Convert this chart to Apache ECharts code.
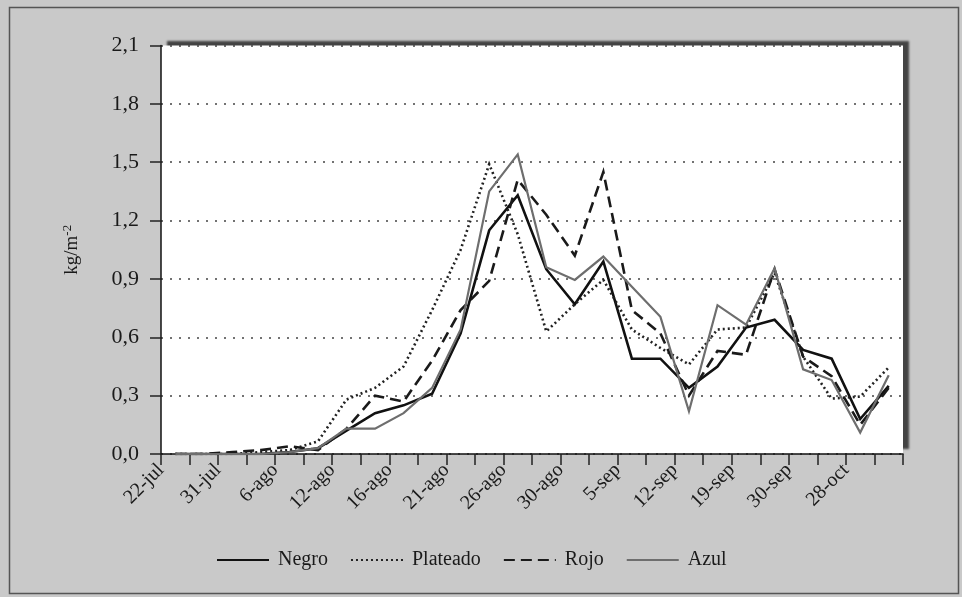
<!DOCTYPE html>
<html><head><meta charset="utf-8">
<script src="https://cdn.jsdelivr.net/npm/echarts@6/dist/echarts.min.js"></script>
<style>html,body{margin:0;padding:0;background:#c9c9c9;}#c{width:962px;height:597px;}</style>
</head><body><div id="c"></div>
<script>
// Tick labels (one every two periods)
const tickLabels = ['22-jul','31-jul','6-ago','12-ago','16-ago','21-ago','26-ago','30-ago','5-sep','12-sep','19-sep','30-sep','28-oct'];
// Series values (kg/m-2), 26 periods
const negro    = [0,0,0,0,0.01,0.03,0.12,0.21,0.25,0.31,0.62,1.15,1.33,0.95,0.77,0.99,0.49,0.49,0.34,0.45,0.65,0.69,0.535,0.49,0.18,0.35];
const plateado = [0,0,0,0.01,0.02,0.065,0.28,0.34,0.45,0.74,1.05,1.49,1.13,0.63,0.77,0.895,0.64,0.545,0.46,0.64,0.65,0.93,0.50,0.285,0.295,0.445];
const rojo     = [0,0,0.01,0.02,0.04,0.02,0.13,0.30,0.27,0.48,0.74,0.89,1.41,1.23,1.02,1.45,0.74,0.62,0.30,0.53,0.51,0.95,0.50,0.40,0.15,0.34];
const azul     = [0,0,0,0,0.01,0.03,0.13,0.13,0.21,0.34,0.64,1.35,1.54,0.96,0.895,1.015,0.86,0.705,0.22,0.765,0.665,0.955,0.435,0.38,0.11,0.405];
const seriesNames = ['Negro','Plateado','Rojo','Azul'];

const nPeriods = negro.length;
const periodCats = Array.from({length: nPeriods}, (_, i) => 'P' + i);
const boundaryCats = [];
for (let i = 0; i <= nPeriods; i++) boundaryCats.push(i % 2 === 0 && tickLabels[i/2] !== undefined ? tickLabels[i/2] : '');

const serif = '"Liberation Serif","DejaVu Serif",serif';
const chart = echarts.init(document.getElementById('c'), null, {renderer: 'canvas'});

const mk = (name, data, color, width, type) => ({
  name, type: 'line', data, xAxisIndex: 1, symbol: 'none', smooth: false,
  lineStyle: {color, width, type, cap: 'butt', join: 'miter'},
  itemStyle: {color}
});

chart.setOption({
  animation: false,
  backgroundColor: '#c9c9c9',
  graphic: [{
    type: 'rect', left: 7, top: 5, silent: true,
    shape: {width: 949, height: 586},
    style: {fill: 'none', stroke: '#555', lineWidth: 1.5}
  }],
  grid: {
    left: 161, right: 59, top: 45.5, bottom: 143,
    show: true, backgroundColor: '#fff', borderWidth: 0,
    shadowColor: 'rgba(60,60,60,0.95)', shadowBlur: 2, shadowOffsetX: 6, shadowOffsetY: -5
  },
  legend: {
    data: seriesNames, left: 211, top: 545, itemWidth: 52, itemHeight: 18, itemGap: 22,
    itemStyle: {opacity: 0},
    textStyle: {fontFamily: serif, fontSize: 20, color: '#1a1a1a', padding: [0,0,0,4]}
  },
  xAxis: [{
    type: 'category', data: boundaryCats, boundaryGap: false,
    axisLine: {lineStyle: {color: '#111', width: 1.5}},
    axisTick: {show: true, interval: 0, length: 11, lineStyle: {color: '#222', width: 1.5}},
    axisLabel: {interval: 0, rotate: 45, margin: 13, fontFamily: serif, fontSize: 20, color: '#1a1a1a'},
    splitLine: {show: false}
  }, {
    type: 'category', data: periodCats, boundaryGap: true, show: false
  }],
  yAxis: {
    type: 'value', min: 0, max: 2.1, interval: 0.3,
    name: '{a|kg/m}{b|-2}', nameLocation: 'middle', nameRotate: 90, nameGap: 78,
    nameTextStyle: {rich: {a: {fontFamily: serif, fontSize: 19, color: '#1a1a1a'}, b: {fontFamily: serif, fontSize: 13, color: '#1a1a1a', verticalAlign: 'bottom', padding: [0,0,9,0]}}},
    axisLine: {show: true, lineStyle: {color: '#111', width: 1.5}},
    axisTick: {show: true, length: 11, lineStyle: {color: '#222', width: 1.5}},
    axisLabel: {margin: 22, fontFamily: serif, fontSize: 22, color: '#1a1a1a', formatter: v => v.toFixed(1).replace('.', ',')},
    splitLine: {show: true, lineStyle: {color: '#444', width: 1.6, type: [2, 7]}}
  },
  series: [
    mk('Negro', negro, '#111', 2.6, 'solid'),
    mk('Plateado', plateado, '#222', 2.6, [2, 3]),
    mk('Rojo', rojo, '#1a1a1a', 2.6, [11, 6]),
    mk('Azul', azul, '#6e6e6e', 2.2, 'solid')
  ]
});
</script></body></html>
